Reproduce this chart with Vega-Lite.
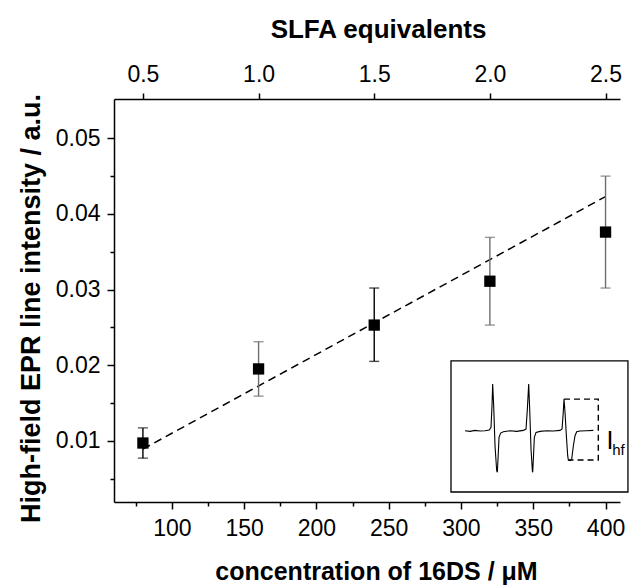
{
  "$schema": "https://vega.github.io/schema/vega-lite/v6.json",
  "width": 506,
  "height": 403,
  "autosize": {"type": "none"},
  "padding": {"left": 114, "top": 99, "right": 10, "bottom": 85},
  "background": "white",
  "config": {
    "view": {"stroke": null},
    "axis": {
      "grid": false,
      "domainColor": "black",
      "tickColor": "black",
      "labelColor": "black",
      "titleColor": "black",
      "labelFont": "Liberation Sans",
      "titleFont": "Liberation Sans",
      "domainWidth": 1.5,
      "tickWidth": 1.5,
      "labelOverlap": false,
      "labelBound": false,
      "labelFlush": false
    }
  },
  "datasets": {
    "pts": [
      {"x": 80, "y": 0.0097, "lo": 0.0077, "hi": 0.0117, "s": 0.5},
      {"x": 160, "y": 0.0195, "lo": 0.0159, "hi": 0.0231, "s": 1.0},
      {"x": 240, "y": 0.0253, "lo": 0.0205, "hi": 0.0302, "s": 1.5},
      {"x": 320, "y": 0.0311, "lo": 0.0253, "hi": 0.0369, "s": 2.0},
      {"x": 400, "y": 0.0376, "lo": 0.0302, "hi": 0.0450, "s": 2.5}
    ],
    "fit": [
      {"x": 80, "y": 0.0089},
      {"x": 400, "y": 0.0423}
    ],
    "box": [
      {"x": 293.1, "x2": 415.5, "y": 0.003223, "y2": 0.020568}
    ],
    "spec": [
      {"x": 302.80, "y": 0.011326}, {"x": 306.25, "y": 0.011238}, {"x": 309.71, "y": 0.011370},
      {"x": 313.17, "y": 0.011282}, {"x": 316.63, "y": 0.011326}, {"x": 319.63, "y": 0.011414},
      {"x": 320.78, "y": 0.011767}, {"x": 321.47, "y": 0.014629}, {"x": 321.93, "y": 0.017491},
      {"x": 322.63, "y": 0.014629}, {"x": 323.55, "y": 0.009345}, {"x": 324.70, "y": 0.006043},
      {"x": 325.16, "y": 0.005823}, {"x": 325.62, "y": 0.007584}, {"x": 326.32, "y": 0.010446},
      {"x": 327.47, "y": 0.011018}, {"x": 329.31, "y": 0.011194}, {"x": 333.93, "y": 0.011326},
      {"x": 338.54, "y": 0.011238}, {"x": 343.15, "y": 0.011370}, {"x": 344.99, "y": 0.011547},
      {"x": 345.92, "y": 0.014188}, {"x": 346.84, "y": 0.017491}, {"x": 347.53, "y": 0.014188},
      {"x": 348.45, "y": 0.008905}, {"x": 349.38, "y": 0.006043}, {"x": 349.61, "y": 0.005823},
      {"x": 350.07, "y": 0.007584}, {"x": 350.76, "y": 0.010446}, {"x": 351.91, "y": 0.011106},
      {"x": 354.68, "y": 0.011238}, {"x": 359.29, "y": 0.011326}, {"x": 363.90, "y": 0.011282},
      {"x": 368.52, "y": 0.011370}, {"x": 369.90, "y": 0.011547}, {"x": 370.59, "y": 0.013308},
      {"x": 371.28, "y": 0.015509}, {"x": 371.98, "y": 0.013748}, {"x": 372.90, "y": 0.010666},
      {"x": 373.82, "y": 0.008024}, {"x": 374.28, "y": 0.007452}, {"x": 375.43, "y": 0.007364},
      {"x": 376.59, "y": 0.007584}, {"x": 377.74, "y": 0.009345}, {"x": 378.89, "y": 0.010666},
      {"x": 380.05, "y": 0.011194}, {"x": 382.35, "y": 0.011282}, {"x": 386.96, "y": 0.011326},
      {"x": 391.58, "y": 0.011370}
    ],
    "dbox": [
      {"o": 1, "x": 371.28, "y": 0.015509},
      {"o": 2, "x": 395.0, "y": 0.015509},
      {"o": 3, "x": 395.0, "y": 0.007452},
      {"o": 4, "x": 374.28, "y": 0.007452}
    ],
    "labI": [{"x": 403.0, "y": 0.0100, "t": "I"}],
    "labHF": [{"x": 404.6, "y": 0.00877, "t": "hf"}]
  },
  "layer": [
    {
      "layer": [
        {
          "data": {"name": "fit"},
          "mark": {"type": "line", "color": "black", "strokeWidth": 1.5, "strokeDash": [8, 5]},
          "encoding": {
            "x": {"field": "x", "type": "quantitative", "scale": {"domain": [60, 410], "nice": false, "zero": false},
              "axis": {
                "orient": "bottom",
                "title": "concentration of 16DS / μM",
                "values": [100, 150, 200, 250, 300, 350, 400],
                "format": "d",
                "tickSize": 7,
                "labelFontSize": 23,
                "labelPadding": 8,
                "titleFontSize": 25,
                "titleFontWeight": "bold",
                "titleBaseline": "alphabetic",
                "titleX": 262,
                "titleY": 77
              }
            },
            "y": {"field": "y", "type": "quantitative", "scale": {"domain": [0.0019, 0.0552], "nice": false, "zero": false},
              "axis": {
                "title": "High-field EPR line intensity / a.u.",
                "values": [0.005, 0.01, 0.015, 0.02, 0.025, 0.03, 0.035, 0.04, 0.045, 0.05],
                "labelExpr": "round(datum.value * 1000) % 10 == 0 ? format(datum.value, '.2f') : ''",
                "tickSize": {"condition": {"test": "round(datum.value * 1000) % 10 == 0", "value": 7}, "value": 4},
                "labelFontSize": 23,
                "labelPadding": 7,
                "titleFontSize": 27,
                "titleFontWeight": "bold",
                "titleBaseline": "alphabetic",
                "titleAngle": -90,
                "titleX": -75,
                "titleY": 209
              }
            }
          }
        },
        {
          "data": {"name": "pts"},
          "mark": {"type": "rule", "strokeWidth": 1.4},
          "encoding": {
            "x": {"field": "x", "type": "quantitative", "scale": {"domain": [60, 410], "nice": false, "zero": false}},
            "y": {"field": "lo", "type": "quantitative", "scale": {"domain": [0.0019, 0.0552], "nice": false, "zero": false}},
            "y2": {"field": "hi"},
            "color": {"condition": {"test": "datum.x == 80 || datum.x == 240", "value": "black"}, "value": "#6e6e6e"}
          }
        },
        {
          "data": {"name": "pts"},
          "mark": {"type": "tick", "orient": "horizontal", "size": 10, "thickness": 1.4},
          "encoding": {
            "x": {"field": "x", "type": "quantitative", "scale": {"domain": [60, 410], "nice": false, "zero": false}},
            "y": {"field": "hi", "type": "quantitative", "scale": {"domain": [0.0019, 0.0552], "nice": false, "zero": false}},
            "color": {"condition": {"test": "datum.x == 80 || datum.x == 240", "value": "black"}, "value": "#6e6e6e"}
          }
        },
        {
          "data": {"name": "pts"},
          "mark": {"type": "tick", "orient": "horizontal", "size": 10, "thickness": 1.4},
          "encoding": {
            "x": {"field": "x", "type": "quantitative", "scale": {"domain": [60, 410], "nice": false, "zero": false}},
            "y": {"field": "lo", "type": "quantitative", "scale": {"domain": [0.0019, 0.0552], "nice": false, "zero": false}},
            "color": {"condition": {"test": "datum.x == 80 || datum.x == 240", "value": "black"}, "value": "#6e6e6e"}
          }
        },
        {
          "data": {"name": "pts"},
          "mark": {"type": "point", "shape": "square", "filled": true, "color": "black", "size": 128, "opacity": 1},
          "encoding": {
            "x": {"field": "x", "type": "quantitative", "scale": {"domain": [60, 410], "nice": false, "zero": false}},
            "y": {"field": "y", "type": "quantitative", "scale": {"domain": [0.0019, 0.0552], "nice": false, "zero": false}}
          }
        },
        {
          "data": {"name": "box"},
          "mark": {"type": "rect", "fill": "white", "stroke": "black", "strokeWidth": 1.3},
          "encoding": {
            "x": {"field": "x", "type": "quantitative", "scale": {"domain": [60, 410], "nice": false, "zero": false}},
            "x2": {"field": "x2"},
            "y": {"field": "y", "type": "quantitative", "scale": {"domain": [0.0019, 0.0552], "nice": false, "zero": false}},
            "y2": {"field": "y2"}
          }
        },
        {
          "data": {"name": "spec"},
          "mark": {"type": "line", "color": "black", "strokeWidth": 1.1},
          "encoding": {
            "x": {"field": "x", "type": "quantitative", "scale": {"domain": [60, 410], "nice": false, "zero": false}},
            "y": {"field": "y", "type": "quantitative", "scale": {"domain": [0.0019, 0.0552], "nice": false, "zero": false}}
          }
        },
        {
          "data": {"name": "dbox"},
          "mark": {"type": "line", "color": "black", "strokeWidth": 1.4, "strokeDash": [6, 4]},
          "encoding": {
            "x": {"field": "x", "type": "quantitative", "scale": {"domain": [60, 410], "nice": false, "zero": false}},
            "y": {"field": "y", "type": "quantitative", "scale": {"domain": [0.0019, 0.0552], "nice": false, "zero": false}},
            "order": {"field": "o"}
          }
        },
        {
          "data": {"name": "labI"},
          "mark": {"type": "text", "font": "Liberation Sans", "fontSize": 25, "color": "black", "align": "center", "baseline": "middle"},
          "encoding": {
            "x": {"field": "x", "type": "quantitative", "scale": {"domain": [60, 410], "nice": false, "zero": false}},
            "y": {"field": "y", "type": "quantitative", "scale": {"domain": [0.0019, 0.0552], "nice": false, "zero": false}},
            "text": {"field": "t"}
          }
        },
        {
          "data": {"name": "labHF"},
          "mark": {"type": "text", "font": "Liberation Sans", "fontSize": 15, "color": "black", "align": "left", "baseline": "middle"},
          "encoding": {
            "x": {"field": "x", "type": "quantitative", "scale": {"domain": [60, 410], "nice": false, "zero": false}},
            "y": {"field": "y", "type": "quantitative", "scale": {"domain": [0.0019, 0.0552], "nice": false, "zero": false}},
            "text": {"field": "t"}
          }
        }
      ]
    },
    {
      "data": {"name": "pts"},
      "mark": {"type": "point", "opacity": 0},
      "encoding": {
        "x": {"field": "s", "type": "quantitative", "scale": {"domain": [0.375, 2.5625], "nice": false, "zero": false},
          "axis": {
            "orient": "top",
            "title": "SLFA equivalents",
            "values": [0.5, 1.0, 1.5, 2.0, 2.5],
            "format": ".1f",
            "tickSize": 6,
            "labelFontSize": 23,
            "labelPadding": 7,
            "titleFontSize": 26,
            "titleFontWeight": "bold",
            "titleBaseline": "alphabetic",
            "titleX": 264,
            "titleY": -62
          }
        }
      }
    },
    {
      "data": {"name": "pts"},
      "mark": {"type": "point", "opacity": 0},
      "encoding": {
        "x": {"field": "x", "type": "quantitative", "scale": {"domain": [60, 410], "nice": false, "zero": false},
          "axis": {
            "orient": "bottom",
            "title": null,
            "values": [75, 125, 175, 225, 275, 325, 375],
            "labels": false,
            "domain": false,
            "tickSize": 4
          }
        }
      }
    }
  ],
  "resolve": {"scale": {"x": "independent"}}
}
